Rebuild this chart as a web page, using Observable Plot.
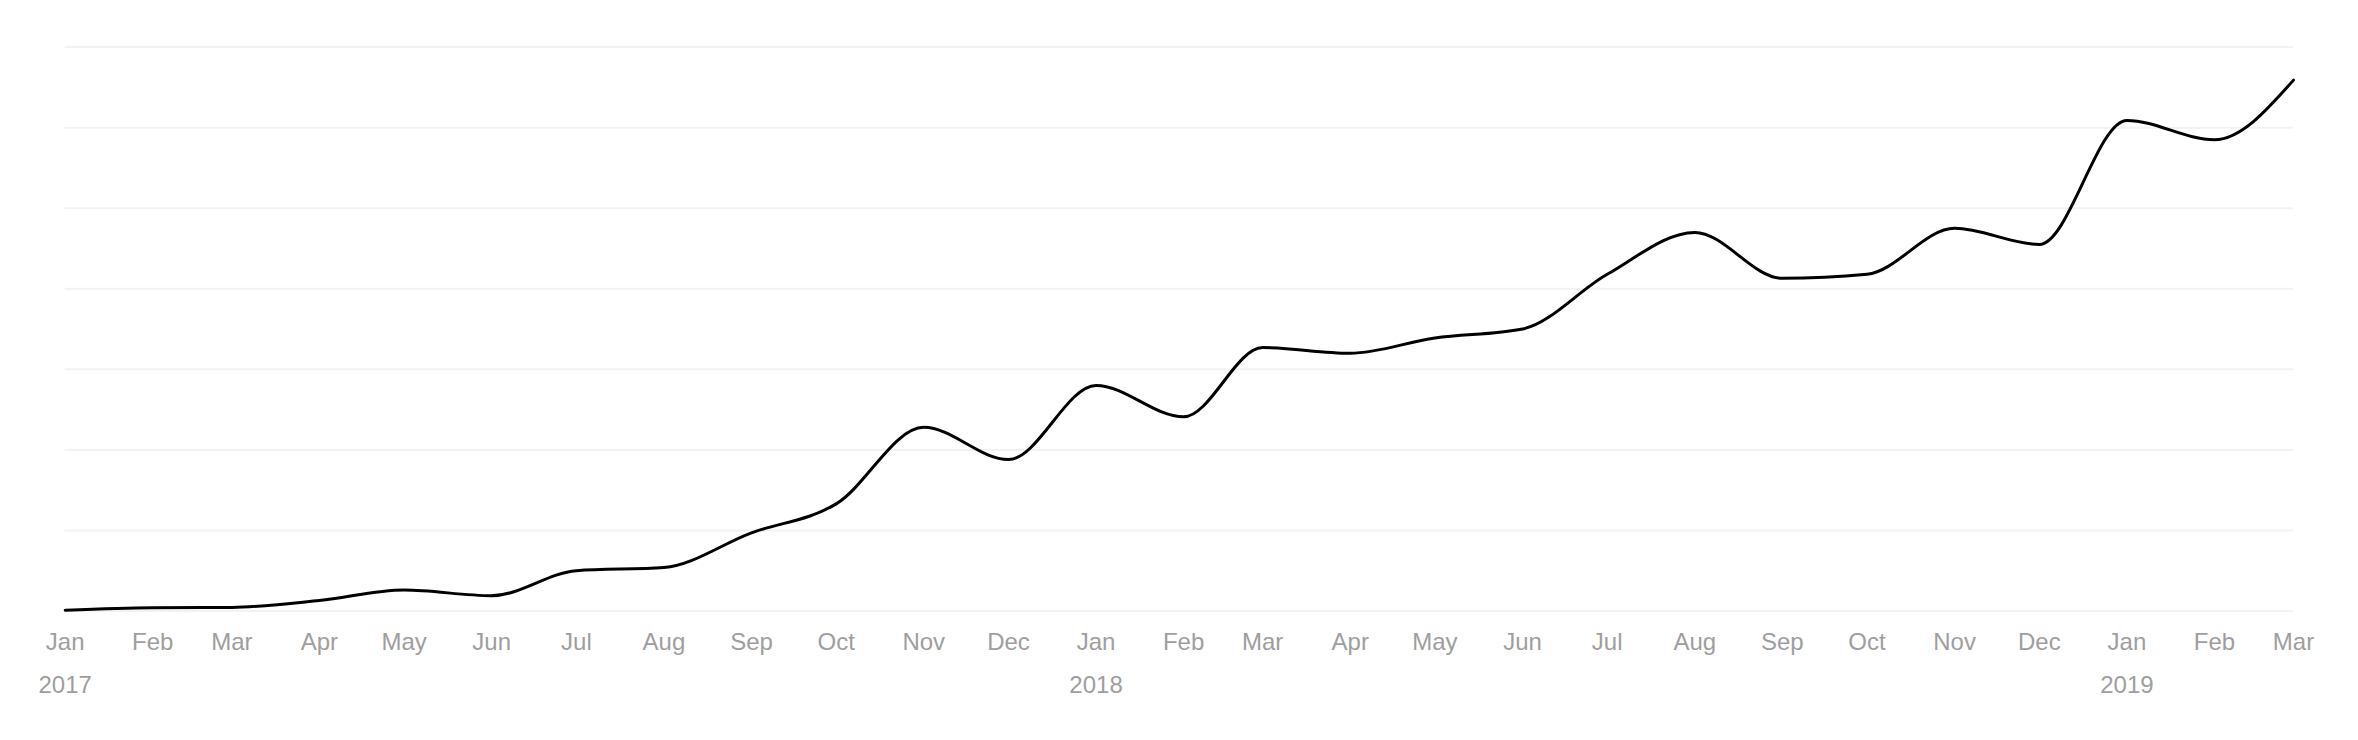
<!DOCTYPE html>
<html>
<head>
<meta charset="utf-8">
<script src="https://cdn.jsdelivr.net/npm/d3@7"></script>
<script src="https://cdn.jsdelivr.net/npm/@observablehq/plot@0.6"></script>
<style>
  html, body { margin: 0; padding: 0; background: #fff; }
  #chart svg { display: block; }
</style>
</head>
<body>
<div id="chart"></div>
<script>
// Months (first of month) and series values
const months = [
  "2017-01","2017-02","2017-03","2017-04","2017-05","2017-06",
  "2017-07","2017-08","2017-09","2017-10","2017-11","2017-12",
  "2018-01","2018-02","2018-03","2018-04","2018-05","2018-06",
  "2018-07","2018-08","2018-09","2018-10","2018-11","2018-12",
  "2019-01","2019-02","2019-03"
];
const values = [
  0.01, 0.04, 0.045, 0.13, 0.26, 0.19,
  0.50, 0.54, 0.97, 1.33, 2.28, 1.88,
  2.80, 2.41, 3.27, 3.20, 3.39, 3.50,
  4.18, 4.70, 4.13, 4.18, 4.75, 4.55,
  6.09, 5.85, 6.59
];
// Tick labels
const monthTicks = months;
const yearTicks = ["2017-01", "2018-01", "2019-01"];
const gridValues = [0, 1, 2, 3, 4, 5, 6, 7];

const parse = d3.utcParse("%Y-%m");
const data = months.map((m, i) => ({date: parse(m), value: values[i]}));

const chart = Plot.plot({
  width: 2358,
  height: 740,
  marginTop: 46.6,
  marginBottom: 129.5,
  marginLeft: 64.7,
  marginRight: 65,
  style: {fontFamily: "'Liberation Sans', Arial, Helvetica, sans-serif", fontSize: "24px", background: "#fff"},
  x: {type: "utc", domain: [parse(months[0]), parse(months[months.length - 1])], label: null},
  y: {domain: [0, 7], axis: null, label: null},
  marks: [
    Plot.gridY(gridValues, {stroke: "#f2f2f2", strokeOpacity: 1, strokeWidth: 2}),
    Plot.axisX(monthTicks.map(parse), {
      tickSize: 0, tickPadding: 22, fill: "#9e9e9e", fontSize: 24,
      tickFormat: d3.utcFormat("%b"), label: null
    }),
    Plot.axisX(yearTicks.map(parse), {
      tickSize: 0, tickPadding: 65, fill: "#9e9e9e", fontSize: 24,
      tickFormat: d3.utcFormat("%Y"), label: null
    }),
    Plot.line(data, {x: "date", y: "value", stroke: "#000", strokeWidth: 3, curve: "monotone-x"})
  ]
});
document.getElementById("chart").append(chart);
</script>
</body>
</html>
